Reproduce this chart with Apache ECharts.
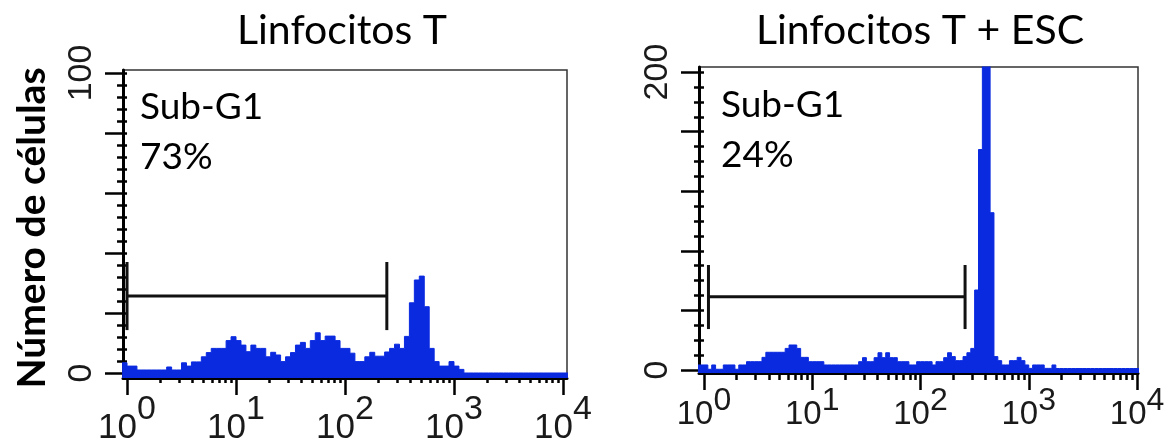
<!DOCTYPE html>
<html>
<head>
<meta charset="utf-8">
<script src="https://cdn.jsdelivr.net/npm/echarts@6/dist/echarts.min.js"></script>
<style>
  html, body { margin: 0; padding: 0; background: #fff; }
  #chart { width: 1169px; height: 447px; }
</style>
</head>
<body>
<div id="chart"></div>
<script>
// DNA-content histograms (log fluorescence, 4 decades) with the Sub-G1 gate.
const TITLES = ['Linfocitos T', 'Linfocitos T + ESC'];
const GATE_NAME = 'Sub-G1';
const GATE_PERCENT = ['73%', '24%'];
const Y_TITLE = 'Número de células';
const X_TICK_EXPONENTS = [0, 1, 2, 3, 4];
const X_MINOR_MULTIPLIERS = [2, 3, 4, 5, 6, 7, 8, 9];
const LEFT_Y_LABELS = [0, 100];
const RIGHT_Y_LABELS = [0, 200];

// Channel layout of each histogram: lower edge of the first bin (log10) and bins per decade.
const LEFT_FIRST_EDGE = -1 / 22;
const LEFT_BINS_PER_DECADE = 22;
const RIGHT_FIRST_EDGE = -2 / 28;
const RIGHT_BINS_PER_DECADE = 28;

// Cell counts per channel bin.
const LEFT_COUNTS = [
  3.4, 2.3, 2.3, 1, 1, 1, 1, 1, 1, 2,
  1, 1, 3.4, 2.3, 3.7, 3.7, 5.4, 6.8, 8.2, 8.2,
  8.2, 10.8, 12.1, 10.8, 9.3, 7.1, 9.3, 8.2, 8.2, 5.4,
  6.9, 6, 3.8, 5.4, 6.8, 9.3, 10.2, 8.2, 10.8, 13.4,
  10.8, 12.3, 12.3, 10.8, 8.2, 8.2, 6.6, 3.8, 3.8, 5.4,
  6.9, 5.6, 5.6, 7, 8.2, 9.6, 8.2, 12.2, 23.4, 31,
  32.3, 22.1, 8.2, 3.8, 2.3, 2.3, 3.8, 2.3, 1.2, 0,
  0, 0, 0, 0, 0, 0, 0, 0, 0, 0,
  0, 0, 0, 0, 0, 0, 0, 0, 0, 0
];
const RIGHT_COUNTS = [
  3.4, 3.4, 3.4, 0.5, 3.4, 0.5, 0.5, 3.4, 3.4, 3.4,
  0.5, 3.4, 3.4, 5.6, 5.6, 5.6, 5.6, 8.5, 11.9, 11.9,
  11.9, 11.9, 11.9, 14.5, 16.8, 16.8, 14.5, 8.5, 8.5, 5.6,
  5.6, 5.6, 5.6, 3.4, 3.4, 3.4, 3.4, 3.4, 3.4, 3.4,
  3.4, 3.4, 5.6, 8.3, 5.6, 5.6, 8.3, 11.6, 8.3, 11.6,
  8.3, 8.3, 5.6, 5.6, 5.6, 3.4, 3.4, 5.6, 5.6, 5.6,
  5.6, 3.4, 5.6, 5.6, 8.3, 11.6, 9, 6.3, 6.3, 9,
  11.6, 14.5, 53.7, 148, 240, 240, 105.6, 9, 6.3, 3.4,
  3.4, 6.3, 6.3, 8.5, 6.3, 3.4, 1.1, 3.4, 3.4, 3.4,
  1.1, 1.1, 3.4, 1, 1, 1, 1, 1, 1, 1,
  1, 1, 1, 1, 1, 1, 1, 1, 1, 1,
  1, 1, 1, 1, 1
];

// Gate markers: [from, to] in fluorescence units, bar level, bar end bottom, bar end top.
const LEFT_GATE = [1.0, 242, 25.7, 14.3, 37];
const RIGHT_GATE = [1.1, 258, 49.2, 27.5, 70.5];

const BLUE = '#0a2ae0';
const NUM_FONT = 'Liberation Sans';
const TEXT_FONT = 'Lato';

function stepPoints(counts, firstEdge, perDecade) {
  const pts = counts.map((c, i) => [firstEdge + i / perDecade, c]);
  pts.push([firstEdge + counts.length / perDecade, counts[counts.length - 1]]);
  return pts;
}

function range(from, to, step) {
  const out = [];
  for (let v = from; v <= to + 1e-9; v += step) out.push(v);
  return out;
}

const X_MINOR = [];
X_TICK_EXPONENTS.slice(0, -1).forEach(d => X_MINOR_MULTIPLIERS.forEach(m => X_MINOR.push(d + Math.log10(m))));

function xAxesFor(gridIndex, min, max, fontSize, margin, baseLine) {
  const major = {
    type: 'value', gridIndex, position: 'bottom', min, max,
    axisLine: { show: true, onZero: false, lineStyle: { color: '#000', width: 3 } },
    axisTick: { show: true, customValues: X_TICK_EXPONENTS, length: 17, lineStyle: { color: '#000', width: 2.5 } },
    axisLabel: {
      customValues: X_TICK_EXPONENTS,
      margin,
      formatter: v => '{b|10}{s|' + Math.round(v) + '}',
      rich: {
        b: { fontFamily: NUM_FONT, fontSize, color: '#1a1a1a', lineHeight: baseLine, verticalAlign: 'bottom' },
        s: { fontFamily: NUM_FONT, fontSize: fontSize - 1, color: '#1a1a1a', lineHeight: fontSize, verticalAlign: 'top' }
      }
    },
    splitLine: { show: false }
  };
  const minor = {
    type: 'value', gridIndex, position: 'bottom', min, max,
    axisLine: { show: false },
    axisTick: { show: true, customValues: X_MINOR, length: 10, lineStyle: { color: '#000', width: 2.5 } },
    axisLabel: { show: false },
    splitLine: { show: false }
  };
  return [major, minor];
}

function yAxesFor(gridIndex, min, max, majorTicks, minorTicks, labels) {
  const major = {
    type: 'value', gridIndex, position: 'left', min, max,
    axisLine: { show: true, onZero: false, lineStyle: { color: '#000', width: 3 } },
    axisTick: { show: true, customValues: majorTicks, length: 18, lineStyle: { color: '#000', width: 2.5 } },
    axisLabel: { customValues: labels, rotate: 90, margin: 24, fontFamily: NUM_FONT, fontSize: 34, color: '#1a1a1a' },
    splitLine: { show: false }
  };
  const minor = {
    type: 'value', gridIndex, position: 'left', min, max,
    axisLine: { show: false },
    axisTick: { show: true, customValues: minorTicks, length: 10, lineStyle: { color: '#000', width: 2.5 } },
    axisLabel: { show: false },
    splitLine: { show: false }
  };
  return [major, minor];
}

function histSeries(axisIndex, counts, firstEdge, perDecade) {
  return {
    type: 'line', xAxisIndex: axisIndex, yAxisIndex: axisIndex,
    data: stepPoints(counts, firstEdge, perDecade),
    step: 'end', symbol: 'none', silent: true, clip: true, z: 2,
    lineStyle: { color: BLUE, width: 1 },
    itemStyle: { color: BLUE },
    areaStyle: { color: BLUE, opacity: 1, origin: 'start' }
  };
}

function gateSeries(axisIndex, gate) {
  return {
    type: 'custom', xAxisIndex: axisIndex, yAxisIndex: axisIndex, silent: true, z: 3,
    data: [[Math.log10(gate[0]), gate[2], Math.log10(gate[1]), gate[3], gate[4]]],
    renderItem(params, api) {
      const x1 = api.value(0), y = api.value(1), x2 = api.value(2), yb = api.value(3), yt = api.value(4);
      const style = { stroke: '#111', lineWidth: 3 };
      const seg = (a, b) => {
        const p = api.coord(a), q = api.coord(b);
        return { type: 'line', shape: { x1: p[0], y1: p[1], x2: q[0], y2: q[1] }, style };
      };
      return {
        type: 'group',
        children: [seg([x1, y], [x2, y]), seg([x1, yb], [x1, yt]), seg([x2, yb], [x2, yt])]
      };
    }
  };
}

const leftX = xAxesFor(0, -0.037, 4.037, 35, 15, 53);
const rightX = xAxesFor(1, -0.046, 4.009, 33, 12, 46);
const leftY = yAxesFor(0, -1.667, 101, range(0, 100, 20), range(0, 100, 4), LEFT_Y_LABELS);
const rightY = yAxesFor(1, -2.0, 203.4, range(0, 200, 40), range(0, 200, 10), RIGHT_Y_LABELS);

const textStyle = (text, x, y, size, align, extra) => ({
  type: 'text', x, y, silent: true,
  style: Object.assign({ text, fontFamily: TEXT_FONT, fontSize: size, fill: '#000', align, verticalAlign: 'middle' }, extra || {})
});

const chart = echarts.init(document.getElementById('chart'), null, { renderer: 'canvas' });
chart.setOption({
  animation: false,
  backgroundColor: '#fff',
  grid: [
    { left: 123, top: 70, width: 444, height: 308, show: true, borderColor: '#333', borderWidth: 1.5, outerBoundsMode: 'none' },
    { left: 699, top: 67, width: 439, height: 306, show: true, borderColor: '#333', borderWidth: 1.5, outerBoundsMode: 'none' }
  ],
  // axis order: 0 left-major, 1 right-major, 2 left-minor, 3 right-minor
  xAxis: [leftX[0], rightX[0], leftX[1], rightX[1]],
  yAxis: [leftY[0], rightY[0], leftY[1], rightY[1]],
  series: [
    histSeries(0, LEFT_COUNTS, LEFT_FIRST_EDGE, LEFT_BINS_PER_DECADE),
    histSeries(1, RIGHT_COUNTS, RIGHT_FIRST_EDGE, RIGHT_BINS_PER_DECADE),
    gateSeries(0, LEFT_GATE),
    gateSeries(1, RIGHT_GATE)
  ],
  graphic: [
    textStyle(TITLES[0], 342, 31, 41, 'center'),
    textStyle(TITLES[1], 920, 31, 41, 'center'),
    textStyle(GATE_NAME, 140, 107, 37, 'left'),
    textStyle(GATE_PERCENT[0], 140, 157, 37, 'left'),
    textStyle(GATE_NAME, 721, 105, 37, 'left'),
    textStyle(GATE_PERCENT[1], 721, 155, 37, 'left'),
    Object.assign(textStyle(Y_TITLE, 32, 228, 39, 'center', { fontWeight: 'bold' }), { rotation: Math.PI / 2 })
  ]
});
</script>
</body>
</html>
